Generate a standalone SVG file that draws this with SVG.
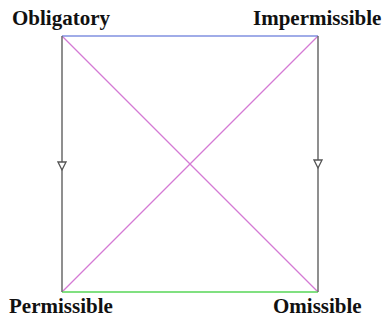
<svg xmlns="http://www.w3.org/2000/svg" width="385" height="321" viewBox="0 0 385 321">
<style>
.lbl{font-family:"Liberation Serif","Times New Roman",serif;font-weight:bold;font-size:21px;fill:#111}
.side{stroke:#6a6a6a;stroke-width:1.5;fill:none}
.diag{stroke:#d47ad4;stroke-width:1.3;fill:none}
</style>
<defs>
<marker id="tri" markerWidth="10" markerHeight="10" refX="9" refY="5" orient="auto" markerUnits="userSpaceOnUse">
<path d="M1,1 L9,5 L1,9 Z" fill="#fff" stroke="#555" stroke-width="1.3"/>
</marker>
</defs>
<rect width="385" height="321" fill="#fff"/>
<g id="connectors">
<line class="diag" x1="62" y1="36" x2="318" y2="292"/>
<line class="diag" x1="318" y1="36" x2="62" y2="292"/>
<line x1="62" y1="36" x2="318" y2="36" stroke="#8090e0" stroke-width="1.5"/>
<line x1="62" y1="292" x2="318" y2="292" stroke="#80e080" stroke-width="1.8"/>
<line class="side" x1="62" y1="36" x2="62" y2="170" marker-end="url(#tri)"/>
<line class="side" x1="62" y1="170" x2="62" y2="292"/>
<line class="side" x1="318" y1="36" x2="318" y2="168" marker-end="url(#tri)"/>
<line class="side" x1="318" y1="168" x2="318" y2="292"/>
</g>
<g id="obligatory"><text class="lbl" x="12" y="25">Obligatory</text></g>
<g id="impermissible"><text class="lbl" x="253" y="25">Impermissible</text></g>
<g id="permissible"><text class="lbl" x="9" y="313">Permissible</text></g>
<g id="omissible"><text class="lbl" x="273" y="313">Omissible</text></g>
</svg>
